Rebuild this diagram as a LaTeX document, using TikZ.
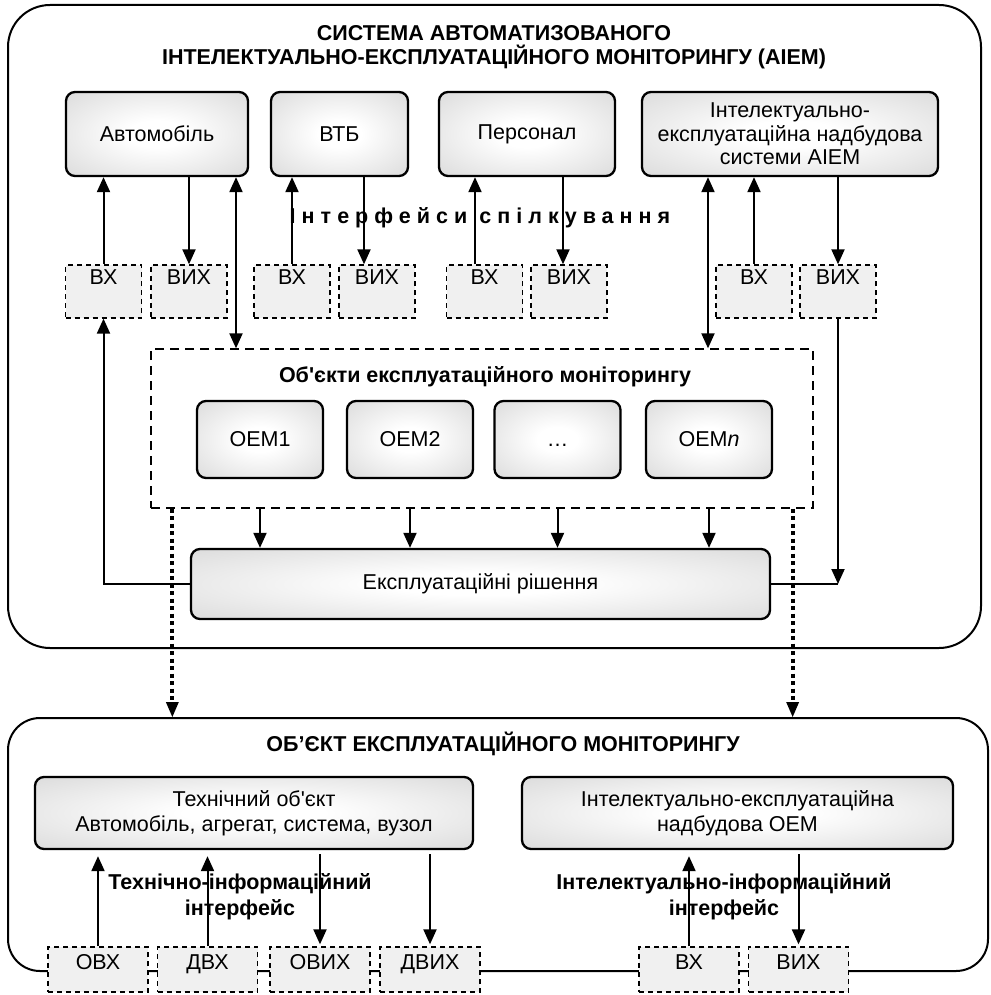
\documentclass[tikz,border=0pt]{standalone}
\usepackage{fontspec}
\setmainfont{Liberation Sans}[Ligatures=TeXOff]
\usetikzlibrary{arrows.meta,calc}
\pgfdeclareradialshading{boxshade}{\pgfpoint{0bp}{0bp}}{color(0bp)=(white); color(8bp)=(white); color(50bp)=(black!21); color(72bp)=(black!27)}
\tikzset{
 graybox/.style={draw, line width=2.3pt, rounded corners=9pt, shading=boxshade, minimum height=84pt, inner sep=2pt, align=center},
 smallbox/.style={draw, line width=1.3pt, dash pattern=on 5pt off 4pt, fill=black!6, minimum width=76pt, minimum height=53pt, inner sep=0pt, label={[anchor=north, inner sep=3pt, yshift=-2pt]north:#1}},
 lowbox/.style={draw, line width=1.3pt, dash pattern=on 5pt off 4pt, fill=black!6, minimum width=100pt, minimum height=45pt, inner sep=0pt, label={[anchor=north, inner sep=3pt, yshift=-5pt]north:#1}},
 arr/.style={line width=2pt, -{Triangle[width=13pt,length=15pt]}},
 dbl/.style={line width=2pt, {Triangle[width=13pt,length=15pt]}-{Triangle[width=13pt,length=15pt]}},
 dotarr/.style={line width=4pt, dash pattern=on 4pt off 3.5pt, -{Triangle[width=13pt,length=15pt,line width=0pt]}},
 bigbox/.style={draw, line width=2pt, inner sep=0pt},
 boldtext/.style={font=\fontsize{21.5}{24}\selectfont\bfseries, align=center},
}
\begin{document}
\begin{tikzpicture}[x=1pt,y=-1pt, font=\fontsize{21.5}{23.5}\selectfont]
\useasboundingbox (0,0) rectangle (990,995);
% outer system box
\node[bigbox, rounded corners=42pt, minimum width=973pt, minimum height=643pt] (sys) at (494.5,326.5) {};
\node[boldtext] (title1) at (494,47) {СИСТЕМА АВТОМАТИЗОВАНОГО\\ІНТЕЛЕКТУАЛЬНО-ЕКСПЛУАТАЦІЙНОГО МОНІТОРИНГУ (AIEM)};
% top boxes
\node[graybox, minimum width=182pt] (auto) at (157,134) {Автомобіль};
\node[graybox, minimum width=137pt] (vtb) at (339.5,134) {ВТБ};
\node[graybox, minimum width=176pt] (pers) at (527,134) {Персонал};
\node[graybox, minimum width=296pt] (intel) at (790,134) {Інтелектуально-\\експлуатаційна надбудова\\системи AIEM};
% interface text
\node[font=\fontsize{21.5}{24}\selectfont\bfseries\addfontfeature{LetterSpace=28}] (iface) at (480,218) {Інтерфейси спілкування};
% small boxes top
\node[smallbox=ВХ] (vx1) at (103.5,291.5) {};
\node[smallbox=ВИХ] (vyx1) at (189,291.5) {};
\node[smallbox=ВХ] (vx2) at (292,291.5) {};
\node[smallbox=ВИХ] (vyx2) at (377,291.5) {};
\node[smallbox=ВХ] (vx3) at (484.5,291.5) {};
\node[smallbox=ВИХ] (vyx3) at (569,291.5) {};
\node[smallbox=ВХ] (vx4) at (754,291.5) {};
\node[smallbox=ВИХ] (vyx4) at (838,291.5) {};
% OEM dashed box
\node[draw, line width=1.3pt, dash pattern=on 9pt off 6pt, minimum width=662pt, minimum height=159pt, inner sep=0pt] (oem) at (482,428.5) {};
\node[boldtext] (oemtitle) at (485,377) {Об'єкти експлуатаційного моніторингу};
\node[graybox, minimum width=126pt, minimum height=77pt] (o1) at (260,439.5) {OEM1};
\node[graybox, minimum width=126pt, minimum height=77pt] (o2) at (410,439.5) {OEM2};
\node[graybox, minimum width=126pt, minimum height=77pt] (o3) at (557.5,439.5) {\vphantom{OEM}…};
\node[graybox, minimum width=126pt, minimum height=77pt] (o4) at (709,439.5) {OEM\textit{n}};
% decisions
\node[graybox, minimum width=579pt, minimum height=70pt] (rish) at (480.5,584) {Експлуатаційні рішення};
% arrows top
\coordinate (c2) at ([xshift=-13pt]vyx2.north);
\coordinate (c3) at ([xshift=-9.5pt]vx3.north);
\coordinate (c4) at ([xshift=-6pt]vyx3.north);
\coordinate (ca) at ([xshift=79pt]auto.south);
\coordinate (ci) at ([xshift=-82pt]intel.south);
\draw[arr] (vx1.north) -- (vx1.north |- auto.south);
\draw[arr] (vyx1.north |- auto.south) -- (vyx1.north);
\draw[dbl] (ca) -- (ca |- oem.north);
\draw[arr] (vx2.north) -- (vx2.north |- vtb.south);
\draw[arr] (c2 |- vtb.south) -- (c2);
\draw[arr] (c3) -- (c3 |- pers.south);
\draw[arr] (c4 |- pers.south) -- (c4);
\draw[dbl] (ci) -- (ci |- oem.north);
\draw[arr] (vx4.north) -- (vx4.north |- intel.south);
\draw[arr] (vyx4.north |- intel.south) -- (vyx4.north);
% oem to decisions
\foreach \o in {o1,o2,o3,o4}{
  \draw[arr] (\o.south |- oem.south) -- (\o.south |- rish.north);
}
% feedback
\draw[arr] (rish.west) -| (vx1.south);
\draw[line width=2pt] (rish.east) -- (rish.east -| vyx4.south);
\draw[arr] (vyx4.south) -- (vyx4.south |- rish.east);
% bottom object box
\node[bigbox, rounded corners=32pt, minimum width=980pt, minimum height=253pt] (obj) at (498,844.5) {};
% dotted links
\coordinate (dl) at ([xshift=22pt]oem.south west);
\coordinate (dr) at ([xshift=-21pt]oem.south east);
\draw[dotarr] (dl) -- (dl |- obj.north);
\draw[dotarr] (dr) -- (dr |- obj.north);
\node[boldtext] (objtitle) at (503,744) {ОБ’ЄКТ ЕКСПЛУАТАЦІЙНОГО МОНІТОРИНГУ};
\node[graybox, minimum width=438pt, minimum height=72pt] (tech) at (254,813) {Технічний об'єкт\\[2pt]Автомобіль, агрегат, система, вузол};
\node[graybox, minimum width=431pt, minimum height=72pt] (ioem) at (737.5,813) {Інтелектуально-експлуатаційна\\[2pt]надбудова OEM};
\node[boldtext, font=\fontsize{21.5}{26}\selectfont\bfseries] (lab1) at (240,897) {Технічно-інформаційний\\інтерфейс};
\node[boldtext, font=\fontsize{21.5}{26}\selectfont\bfseries] (lab2) at (724,897) {Інтелектуально-інформаційний\\інтерфейс};
% bottom small boxes
\node[lowbox=ОВХ] (ovx) at (98,969.5) {};
\node[lowbox=ДВХ] (dvx) at (207.5,969.5) {};
\node[lowbox=ОВИХ] (ovyx) at (320,969.5) {};
\node[lowbox=ДВИХ] (dvyx) at (430,969.5) {};
\node[lowbox=ВХ] (bvx) at (689,969.5) {};
\node[lowbox=ВИХ] (bvyx) at (798.5,969.5) {};
% bottom arrows
\draw[arr, shorten >=6pt] (ovx.north) -- (ovx.north |- tech.south);
\draw[arr, shorten >=6pt] (dvx.north) -- (dvx.north |- tech.south);
\draw[arr, shorten <=4pt, shorten >=2pt] (ovyx.north |- tech.south) -- (ovyx.north);
\draw[arr, shorten <=4pt, shorten >=2pt] (dvyx.north |- tech.south) -- (dvyx.north);
\draw[arr, shorten >=6pt] (bvx.north) -- (bvx.north |- ioem.south);
\draw[arr, shorten <=4pt, shorten >=2pt] (bvyx.north |- ioem.south) -- (bvyx.north);
\end{tikzpicture}
\end{document}
